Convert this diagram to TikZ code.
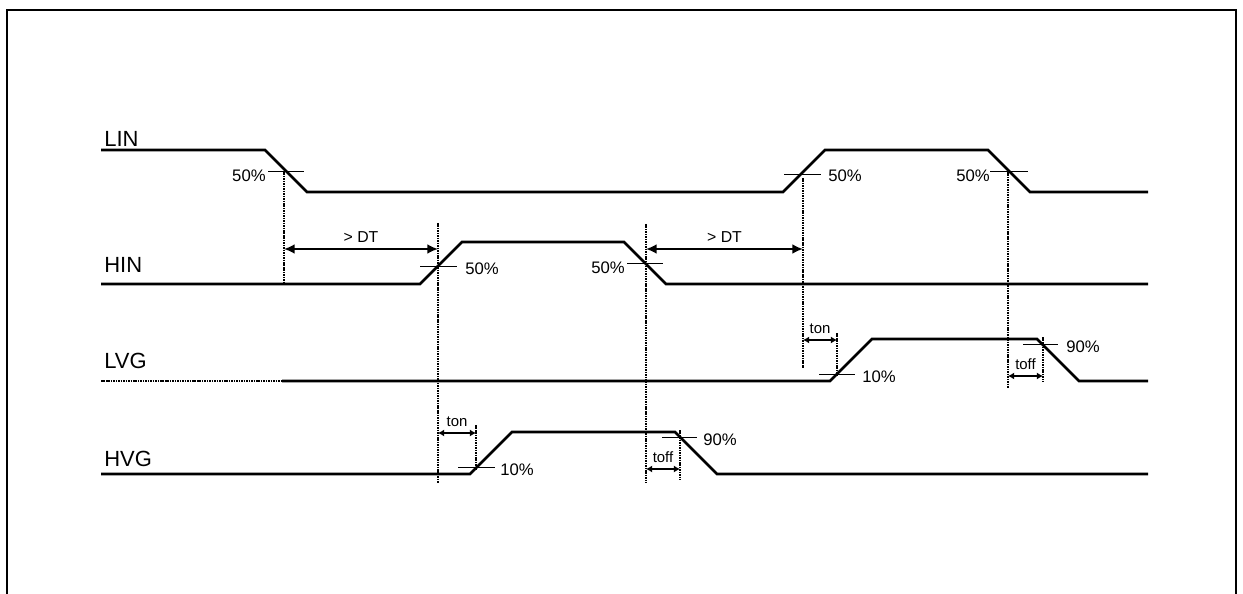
\documentclass[tikz,border=0pt]{standalone}
\usepackage{fontspec}
\setmainfont{Liberation Sans}
\usetikzlibrary{arrows.meta,positioning,calc}
\tikzset{
    %Define standard arrow tip
    >={Latex[length=6pt,width=5.5pt]},
    %Define style for signal names
    title/.style={
           font=\fontsize{12.5}{14}\selectfont, anchor=base west, inner sep=0pt},
    % Define signal style
    wave/.style={
           line width=1.5pt,
           line join=miter},
    % Define arrow style
    pil/.style={
           <->,
           line width=1.1pt}
}

\begin{document}
\begin{tikzpicture}[x=0.02cm, y=-0.02cm]
	% Styles
	\tikzstyle{pct} = [font=\fontsize{9.5}{11}\selectfont, inner sep=0pt]
	\tikzstyle{small} = [font=\fontsize{8.5}{10}\selectfont, inner sep=0pt, anchor=base]
	\tikzstyle{level} = [line width=0.5pt]
	\tikzstyle{guide} = [line width=1.3pt, dash pattern=on 0.9pt off 0.5pt]
	\tikzstyle{tpil} = [{Latex[length=3.5pt,width=4pt]}-{Latex[length=3.5pt,width=4pt]}, line width=1.1pt]

	\useasboundingbox (0,0) rectangle (1243,594);
	% Frame
	\draw[line width=1pt] (7,594) -- (7,10) -- (1236,10) -- (1236,594);

	% Signal names
	\node[title] (lin) at (104,147) {LIN};
	\node[title] (hin) at (104,273) {HIN};
	\node[title] (lvg) at (104,368) {LVG};
	\node[title] (hvg) at (104,466) {HVG};

	% Waveforms
	\draw[wave] (101,150) -- (265,150) -- (307,192) -- (783,192) -- (825,150)
	            -- (988,150) -- (1030,192) -- (1148,192);
	\draw[wave] (101,284) -- (420,284) -- (462,242) -- (624,242) -- (666,284) -- (1148,284);
	\draw[guide] (101,381) -- (282,381);
	\draw[wave] (282,381) -- (830,381) -- (872,339) -- (1037,339) -- (1079,381) -- (1148,381);
	\draw[wave] (101,474) -- (470,474) -- (512,432) -- (675,432) -- (717,474) -- (1148,474);

	% Level marks
	\draw[level] (268,171) -- (304,171);   \node[pct, anchor=east] (l1) at (266,176) {50\%};
	\draw[level] (784,174) -- (821,174);   \node[pct, anchor=west] (l2) at (828,176) {50\%};
	\draw[level] (990,171) -- (1028,171);  \node[pct, anchor=east] (l3) at (990,176) {50\%};
	\draw[level] (420,266) -- (457,266);   \node[pct, anchor=west] (h1) at (465,269) {50\%};
	\draw[level] (627,263) -- (663,263);   \node[pct, anchor=east] (h2) at (625,268) {50\%};
	\draw[level] (819,374) -- (855,374);   \node[pct, anchor=west] (v1) at (862,377) {10\%};
	\draw[level] (1023,344) -- (1058,344); \node[pct, anchor=west] (v2) at (1066,347) {90\%};
	\draw[level] (458,467) -- (495,467);   \node[pct, anchor=west] (g1) at (500,470) {10\%};
	\draw[level] (662,437) -- (697,437);   \node[pct, anchor=west] (g2) at (703,440) {90\%};

	% Guides
	\coordinate (a) at (284,171);  \coordinate (a') at (284,284);
	\coordinate (b) at (438,223);  \coordinate (b') at (438,483);
	\coordinate (c) at (646,224);  \coordinate (c') at (646,483);
	\coordinate (d) at (803,178);  \coordinate (d') at (803,368);
	\coordinate (e) at (1008,172); \coordinate (e') at (1008,388);
	\coordinate (f) at (476,425);  \coordinate (f') at (476,470);
	\coordinate (g) at (680,430);  \coordinate (g') at (680,480);
	\coordinate (h) at (837,333);  \coordinate (h') at (837,375);
	\coordinate (k) at (1043,337); \coordinate (k') at (1043,382);
	\foreach \p in {a,b,c,d,e,f,g,h,k}
	    \draw[guide] (\p) -- (\p');

	% Timing arrows
	\draw[pil] (a |- 0,249) -- node[small, above=3pt] {\fontsize{9}{10}\selectfont > DT} (b |- 0,249);
	\draw[pil] (c |- 0,249) -- node[small, above=3pt] {\fontsize{9}{10}\selectfont > DT} (d |- 0,249);
	\draw[tpil] (b |- 0,433) -- node[small, above=3pt] {ton} (f |- 0,433);
	\draw[tpil] (c |- 0,469) -- node[small, above=3pt] {toff} (g |- 0,469);
	\draw[tpil] (d |- 0,340) -- node[small, above=3pt] {ton} (h |- 0,340);
	\draw[tpil] (e |- 0,376) -- node[small, above=3pt] {toff} (k |- 0,376);
\end{tikzpicture}
\end{document}
